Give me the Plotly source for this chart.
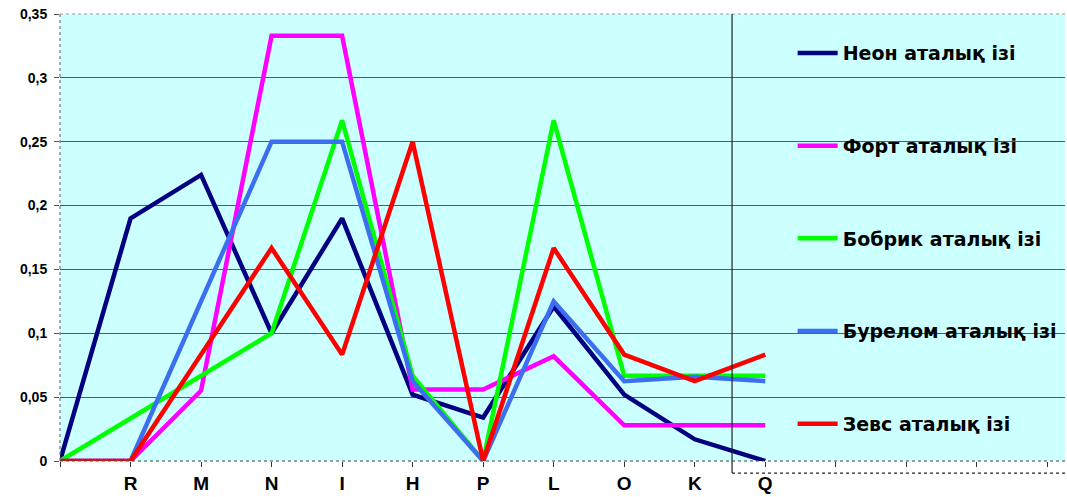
import plotly.graph_objects as go

# Category labels along the x axis (first slot is an unlabeled origin)
categories = ["", "R", "M", "N", "I", "H", "P", "L", "O", "K", "Q"]
extra_ticks = 4  # unlabeled tick slots to the right of the last category

neon = [0, 0.19, 0.224, 0.10, 0.19, 0.052, 0.034, 0.121, 0.052, 0.017, 0]
fort = [0, 0, 0.055, 0.333, 0.333, 0.056, 0.056, 0.082, 0.028, 0.028, 0.028]
bobrik = [0, 0.0333, 0.0667, 0.10, 0.2667, 0.0667, 0, 0.2667, 0.0667, 0.0667, 0.0667]
burelom = [0, 0, 0.125, 0.25, 0.25, 0.0625, 0, 0.125, 0.0625, 0.066, 0.0625]
zevs = [0, 0, 0.0833, 0.1667, 0.0833, 0.25, 0, 0.1667, 0.0833, 0.0625, 0.0833]

series_names = ["Неон аталық ізі", "Форт аталық ізі", "Бобрик аталық ізі",
                "Бурелом аталық ізі", "Зевс аталық ізі"]
series_values = [neon, fort, bobrik, burelom, zevs]
series_colors = ["#000080", "#FF00FF", "#00FF00", "#3C6EF0", "#FF0000"]

y_ticks = [0, 0.05, 0.1, 0.15, 0.2, 0.25, 0.3, 0.35]
y_ticktext = ["0", "0,05", "0,1", "0,15", "0,2", "0,25", "0,3", "0,35"]

FONT = "Arial, Liberation Sans, sans-serif"
LEGEND_FONT = "DejaVu Sans, Arial, sans-serif"
x_pos = list(range(len(categories)))

fig = go.Figure()
for name, vals, col in zip(series_names, series_values, series_colors):
    fig.add_trace(go.Scatter(
        x=x_pos, y=vals, mode="lines", name=name, legendgroup=name,
        line=dict(color=col, width=4.5),
    ))

all_ticks = list(range(len(categories) + extra_ticks))
all_ticktext = categories + [""] * extra_ticks

fig.update_layout(
    width=1067, height=497,
    margin=dict(l=60, r=2, t=14, b=36, autoexpand=False),
    paper_bgcolor="white",
    plot_bgcolor="#CCFFFF",
    font=dict(family=FONT, color="black"),
    showlegend=True,
    legend=dict(
        x=0.729, y=0.955, xanchor="left", yanchor="top",
        bgcolor="rgba(0,0,0,0)",
        font=dict(size=19, family=LEGEND_FONT, color="black", weight="bold"),
        tracegroupgap=65,
        itemwidth=40,
    ),
    xaxis=dict(
        range=[0, 14.25],
        tickvals=all_ticks, ticktext=all_ticktext,
        tickfont=dict(size=19, family=FONT, weight="bold"),
        ticks="outside", ticklen=5, tickcolor="#333333",
        showgrid=False, zeroline=False,
        showline=False,
    ),
    yaxis=dict(
        range=[0, 0.35],
        tickvals=y_ticks, ticktext=y_ticktext,
        tickfont=dict(size=14, family=FONT, weight="bold"),
        ticks="outside", ticklen=5, tickcolor="#555555",
        ticklabelstandoff=4,
        showgrid=True, gridcolor="#5A5A5A", gridwidth=1.3,
        zeroline=False, showline=False,
    ),
)

# Dotted plot frame: left, top and bottom edges
fig.add_shape(type="line", xref="paper", yref="paper", x0=0, x1=0, y0=0, y1=1,
              line=dict(color="#777777", width=1.2, dash="dot"))
fig.add_shape(type="line", xref="paper", yref="paper", x0=0, x1=1, y0=1, y1=1,
              line=dict(color="#999999", width=1.2, dash="dot"))
fig.add_shape(type="line", xref="paper", yref="paper", x0=0, x1=1, y0=0, y1=0,
              line=dict(color="#444444", width=1.2, dash="dot"))

# Legend frame (left and bottom edges)
fig.add_shape(type="line", xref="paper", yref="paper", x0=0.6687, x1=0.6687, y0=-0.027, y1=1,
              line=dict(color="#222222", width=1.2))
fig.add_shape(type="line", xref="paper", yref="paper", x0=0.6687, x1=1.0, y0=-0.027, y1=-0.027,
              line=dict(color="#222222", width=1.2, dash="dot"))

fig.write_html("out.html")
